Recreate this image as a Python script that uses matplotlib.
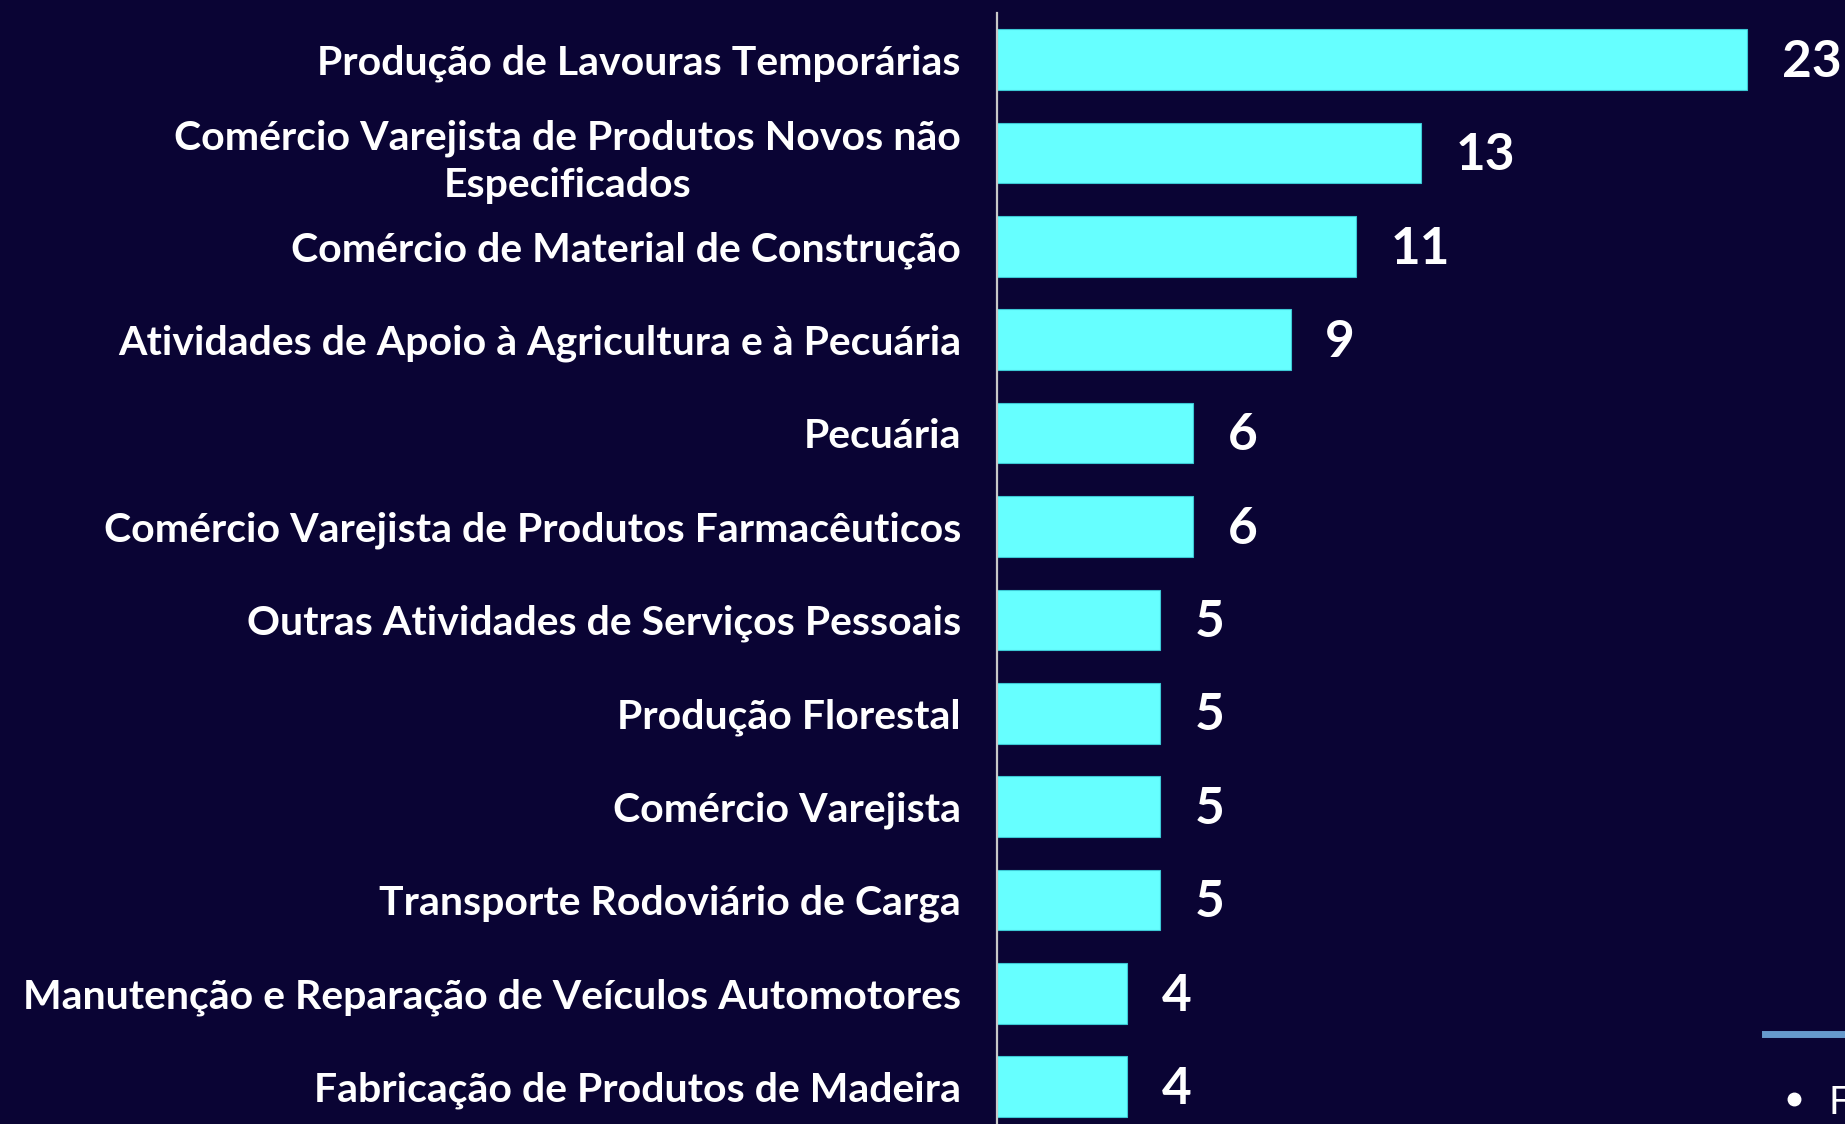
import matplotlib
matplotlib.use("Agg")
import matplotlib.pyplot as plt
from matplotlib.lines import Line2D

categories = [
    "Produção de Lavouras Temporárias",
    "Comércio Varejista de Produtos Novos não\nEspecificados",
    "Comércio de Material de Construção",
    "Atividades de Apoio à Agricultura e à Pecuária",
    "Pecuária",
    "Comércio Varejista de Produtos Farmacêuticos",
    "Outras Atividades de Serviços Pessoais",
    "Produção Florestal",
    "Comércio Varejista",
    "Transporte Rodoviário de Carga",
    "Manutenção e Reparação de Veículos Automotores",
    "Fabricação de Produtos de Madeira",
]
values = [23, 13, 11, 9, 6, 6, 5, 5, 5, 5, 4, 4]

bg = "#0A0434"
bar_color = "#66FFFF"

plt.rcParams['font.family'] = ['Lato', 'DejaVu Sans']

fig = plt.figure(figsize=(18.45, 11.24), dpi=100, facecolor=bg)
ax = fig.add_axes([997 / 1845, 0, 1 - 997 / 1845, 1 - 13 / 1124])
ax.set_facecolor(bg)

ypos = list(range(len(categories)))
ax.barh(ypos, values, height=0.65, color=bar_color, edgecolor="#3CC8D4", linewidth=0.8)

ax.set_xlim(0, 26.0)
ax.set_ylim(11.4, -0.5)

ax.set_yticks(ypos)
ax.set_yticklabels(categories, color="white", fontsize=29.5, fontweight="bold",
                   multialignment="center", linespacing=1.35)
ax.tick_params(axis="y", length=0, pad=26)
ax.set_xticks([])

for s in ["top", "right", "bottom"]:
    ax.spines[s].set_visible(False)
ax.spines["left"].set_color("#C8C8C8")
ax.spines["left"].set_linewidth(1.6)

for y, v in zip(ypos, values):
    ax.annotate(str(v), xy=(v, y), xytext=(25, -2), textcoords="offset points",
                ha="left", va="center", color="white", fontsize=37, fontweight="bold")

# bits of the neighbouring slide element, bottom right
fig.add_artist(Line2D([1765 / 1845, 1.0], [1 - 1034 / 1124] * 2,
                      color="#6699CC", linewidth=5, transform=fig.transFigure))
fig.add_artist(Line2D([1794 / 1845], [1 - 1099 / 1124], marker="o", markersize=9,
                      color="white", linestyle="none", transform=fig.transFigure))
fig.text(1829 / 1845, 1 - 1114 / 1124, "F", color="white", fontsize=28,
         fontweight="normal", ha="left", va="baseline")

fig.savefig("out.png", dpi=100, facecolor=bg)
